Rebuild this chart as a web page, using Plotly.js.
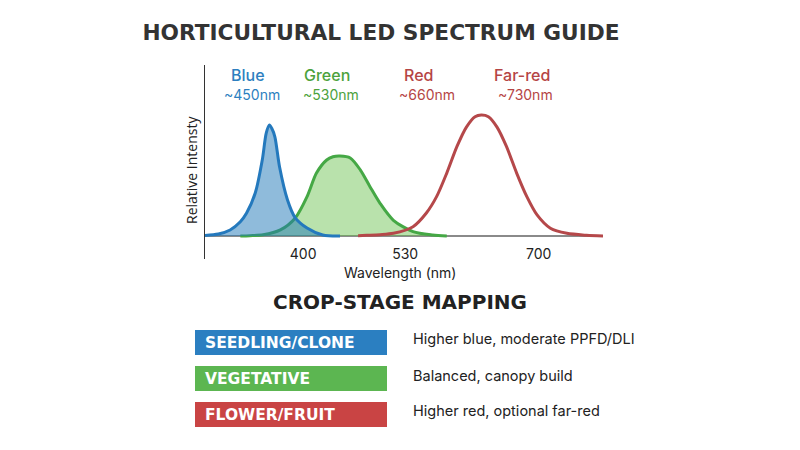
<!DOCTYPE html>
<html>
<head>
<meta charset="utf-8">
<script src="https://cdn.plot.ly/plotly-3.0.1.min.js"></script>
<style>html,body{margin:0;padding:0;background:#fff;}#chart{width:800px;height:450px;}</style>
</head>
<body>
<div id="chart"></div>
<script>
// ---- data ----
const blueX  = [275, 292, 307, 320, 328, 339, 348, 353, 357, 360, 364, 370, 380, 390, 405, 425, 447];
const blueY  = [0.005, 0.017, 0.05, 0.118, 0.19, 0.355, 0.63, 0.85, 0.917, 0.89, 0.82, 0.57, 0.30, 0.15, 0.066, 0.008, 0];
const greenX = [320, 332, 349, 371, 390, 405, 417, 430, 438, 447, 460, 473, 485, 498, 515, 540, 565, 583];
const greenY = [0, 0.003, 0.01, 0.05, 0.149, 0.325, 0.52, 0.628, 0.655, 0.661, 0.645, 0.545, 0.41, 0.27, 0.13, 0.036, 0.008, 0];
const redX   = [470, 481, 498, 515, 540, 557, 570, 583, 596, 608, 619, 627, 636, 647, 659, 672, 685, 698, 715, 736, 761, 782];
const redY   = [0.003, 0.006, 0.011, 0.022, 0.077, 0.19, 0.325, 0.52, 0.74, 0.90, 0.986, 1.0, 0.986, 0.90, 0.74, 0.52, 0.325, 0.174, 0.064, 0.022, 0.006, 0.0];
const tickVals = [400, 530, 700];
const tickText = ["400", "530", "700"];
const bandNames = ["Blue", "Green", "Red", "Far-red"];
const bandWaves = ["~450nm", "~530nm", "~660nm", "~730nm"];
const stages = ["SEEDLING/CLONE", "VEGETATIVE", "FLOWER/FRUIT"];
const stageNotes = ["Higher blue, moderate PPFD/DLI", "Balanced, canopy build", "Higher red, optional far-red"];

// ---- layout helpers (pixel -> paper) ----
const L = 205, R = 603, T = 65, B = 259;
const px = x => (x - L) / (R - L);
const py = y => (B - y) / (B - T);
const FONT = "Inter, 'Open Sans', sans-serif";
const HEAD = "'DejaVu Sans', Inter, sans-serif";

const bandColors = ["#2d7fc0", "#4ca23c", "#b54545", "#b54545"];
const bandPx = [248, 327, 418, 522];
const wavePx = [252, 331, 427, 525];
const stageColors = ["#2b7fc1", "#5cb651", "#c94444"];
const stageTop = [330, 366, 402];
const boxH = 25;

const traces = [
  {x: greenX, y: greenY, type: "scatter", mode: "lines", fill: "tozeroy",
   fillcolor: "rgba(100,190,70,0.45)", line: {color: "#45a845", width: 3, shape: "spline", smoothing: 0.8}, hoverinfo: "skip"},
  {x: blueX, y: blueY, type: "scatter", mode: "lines", fill: "tozeroy",
   fillcolor: "rgba(31,120,184,0.5)", line: {color: "#2479bd", width: 3, shape: "spline", smoothing: 0.8}, hoverinfo: "skip"},
  {x: redX, y: redY, type: "scatter", mode: "lines",
   line: {color: "#b5484a", width: 3, shape: "spline", smoothing: 0.8}, hoverinfo: "skip"}
];

const annotations = [];
bandNames.forEach((n, i) => {
  annotations.push({text: n, x: px(bandPx[i]), y: py(75), xref: "paper", yref: "paper", showarrow: false,
    xanchor: "center", yanchor: "middle", font: {family: FONT, size: 16, color: bandColors[i], weight: 500}});
  annotations.push({text: bandWaves[i], x: px(wavePx[i]), y: py(94), xref: "paper", yref: "paper", showarrow: false,
    xanchor: "center", yanchor: "middle", font: {family: FONT, size: 14, color: bandColors[i]}});
});
annotations.push({text: "Relative Intensty", x: px(191), y: py(170), xref: "paper", yref: "paper", showarrow: false,
  textangle: -90, xanchor: "center", yanchor: "middle", font: {family: "'Open Sans', sans-serif", size: 14, color: "#222"}});
annotations.push({text: "Wavelength (nm)", x: px(400), y: py(272), xref: "paper", yref: "paper", showarrow: false,
  xanchor: "center", yanchor: "middle", font: {family: FONT, size: 14, color: "#222"}});
annotations.push({text: "CROP-STAGE MAPPING", x: px(400), y: py(302), xref: "paper", yref: "paper", showarrow: false,
  xanchor: "center", yanchor: "middle", font: {family: HEAD, size: 20, color: "#222", weight: 700}});

const shapes = [];
stages.forEach((s, i) => {
  shapes.push({type: "rect", xref: "paper", yref: "paper", x0: px(195), x1: px(387),
    y0: py(stageTop[i]), y1: py(stageTop[i] + boxH), fillcolor: stageColors[i], line: {width: 0}, layer: "above"});
  annotations.push({text: s, x: px(203), y: py(stageTop[i] + boxH / 2), xref: "paper", yref: "paper", showarrow: false,
    xanchor: "left", yanchor: "middle", font: {family: HEAD, size: 15.5, color: "#fff", weight: 700}});
  annotations.push({text: stageNotes[i], x: px(411), y: py(stageTop[i] + 9), xref: "paper", yref: "paper", showarrow: false,
    xanchor: "left", yanchor: "middle", font: {family: FONT, size: 14.5, color: "#222"}});
});

const layout = {
  width: 800, height: 450,
  paper_bgcolor: "#fff", plot_bgcolor: "rgba(0,0,0,0)",
  margin: {l: L, r: 800 - R, t: T, b: 450 - B, pad: 0},
  showlegend: false,
  title: {text: "HORTICULTURAL LED SPECTRUM GUIDE", x: 381 / 800, xanchor: "center", y: 1 - 32.5 / 450, yanchor: "middle",
    font: {family: HEAD, size: 21.7, color: "#333", weight: 700}},
  xaxis: {range: [275, 782], showgrid: false, zeroline: false, showline: false, ticks: "",
    tickvals: tickVals, ticktext: tickText, anchor: "free", position: py(244),
    tickfont: {family: FONT, size: 14, color: "#222"}, fixedrange: true},
  yaxis: {range: [-0.19, 1.413], showgrid: false, showticklabels: false, ticks: "",
    zeroline: true, zerolinecolor: "#8a8a8a", zerolinewidth: 2,
    showline: true, linecolor: "#333", linewidth: 1.5, fixedrange: true},
  annotations: annotations,
  shapes: shapes
};

Plotly.newPlot("chart", traces, layout, {displayModeBar: false, staticPlot: true});
</script>
</body>
</html>
